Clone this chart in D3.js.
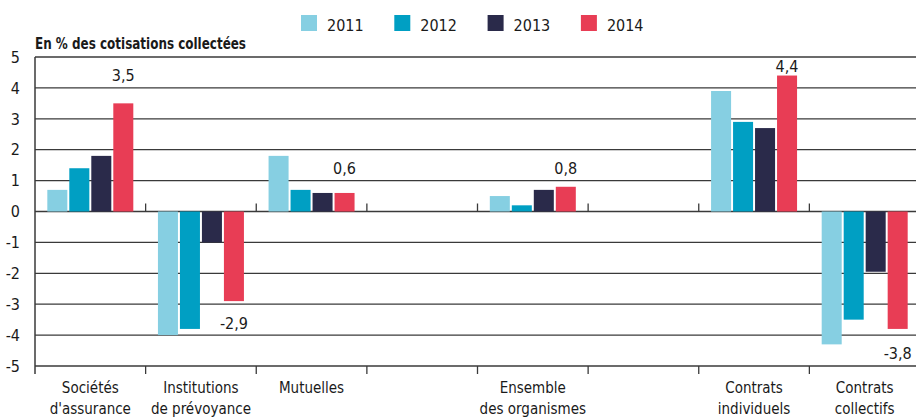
<!DOCTYPE html>
<html>
<head>
<meta charset="utf-8">
<script src="https://cdn.jsdelivr.net/npm/d3@7"></script>
<style>
  body { margin: 0; background: #fff; }
  svg text { font-family: "Liberation Sans Narrow", "DejaVu Sans Condensed", sans-serif; fill: #1a1a1a; }
</style>
</head>
<body>
<div id="chart"></div>
<script>
// categories (empty entries are spacer slots in the original layout)
const categories = [
  ['Sociétés', "d'assurance"],
  ['Institutions', 'de prévoyance'],
  ['Mutuelles'],
  [],
  ['Ensemble', 'des organismes'],
  [],
  ['Contrats', 'individuels'],
  ['Contrats', 'collectifs']
];
const years = ['2011', '2012', '2013', '2014'];
const colors = ['#86cfe2', '#009fc3', '#2a2a4a', '#e83d55'];

const values2011 = [0.7, -4.0, 1.8, null, 0.5, null, 3.9, -4.3];
const values2012 = [1.4, -3.8, 0.7, null, 0.2, null, 2.9, -3.5];
const values2013 = [1.8, -1.0, 0.6, null, 0.7, null, 2.7, -1.95];
const values2014 = [3.5, -2.9, 0.6, null, 0.8, null, 4.4, -3.8];
const series = [values2011, values2012, values2013, values2014];

const yTicks = [5, 4, 3, 2, 1, 0, -1, -2, -3, -4, -5];
const yTitle = 'En % des cotisations collectées';

const width = 916, height = 419;
const margin = {left: 35, right: -4, top: 57, bottom: 53};

const svg = d3.select('#chart').append('svg')
  .attr('width', width)
  .attr('height', height);

const x0 = d3.scaleBand()
  .domain(d3.range(categories.length))
  .range([margin.left, width - margin.right]);

const x1 = d3.scaleBand()
  .domain(years)
  .range([0, x0.bandwidth()])
  .paddingInner(0.09)
  .paddingOuter(0.56);

const y = d3.scaleLinear()
  .domain([-5, 5])
  .range([height - margin.bottom, margin.top]);

const gridColor = '#3a3a3a';

// horizontal grid lines
svg.append('g')
  .selectAll('line')
  .data(yTicks)
  .join('line')
  .attr('x1', margin.left)
  .attr('x2', width)
  .attr('y1', d => y(d))
  .attr('y2', d => y(d))
  .attr('stroke', gridColor)
  .attr('stroke-width', 1.3);

// y tick labels
svg.append('g')
  .selectAll('text')
  .data(yTicks)
  .join('text')
  .attr('x', 20)
  .attr('y', d => y(d))
  .attr('dy', '0.36em')
  .attr('text-anchor', 'end')
  .style('font-size', '16px')
  .text(d => d);

// y title
svg.append('text')
  .attr('x', margin.left)
  .attr('y', 49)
  .attr('textLength', 211)
  .attr('lengthAdjust', 'spacingAndGlyphs')
  .style('font-size', '16px')
  .style('font-weight', 'bold')
  .text(yTitle);

// bars
const groups = svg.append('g')
  .selectAll('g')
  .data(categories.map((c, i) => i))
  .join('g')
  .attr('transform', i => `translate(${x0(i)},0)`);

groups.selectAll('rect')
  .data(i => years.map((yr, k) => ({year: yr, k, v: series[k][i]})).filter(d => d.v !== null))
  .join('rect')
  .attr('x', d => x1(d.year))
  .attr('width', x1.bandwidth())
  .attr('y', d => y(Math.max(0, d.v)))
  .attr('height', d => Math.abs(y(d.v) - y(0)))
  .attr('fill', d => colors[d.k]);

// value labels on 2014 bars
const fmt = v => d3.format('.1f')(v).replace('.', ',').replace('−', '-');
groups.selectAll('text.val')
  .data(i => values2014[i] === null ? [] : [values2014[i]])
  .join('text')
  .attr('class', 'val')
  .attr('x', x1('2014') + x1.bandwidth() / 2)
  .attr('y', v => y(v >= 0 ? Math.min(Math.ceil(v) + 0.4, 4.7) : Math.max(Math.floor(v) - 0.6, -4.7)))
  .attr('dy', '0.36em')
  .attr('text-anchor', 'middle')
  .style('font-size', '16px')
  .text(fmt);

// axis lines and ticks
const bounds = d3.range(categories.length).map(i => x0(i));
svg.append('line')
  .attr('x1', margin.left).attr('x2', margin.left)
  .attr('y1', y(5)).attr('y2', y(-5) + 8)
  .attr('stroke', gridColor).attr('stroke-width', 1.5);

svg.append('g')
  .selectAll('line')
  .data(bounds.slice(1))
  .join('line')
  .attr('x1', d => d).attr('x2', d => d)
  .attr('y1', y(0) - 8).attr('y2', y(0))
  .attr('stroke', gridColor).attr('stroke-width', 1.3);

svg.append('g')
  .selectAll('line')
  .data(bounds.slice(1))
  .join('line')
  .attr('x1', d => d).attr('x2', d => d)
  .attr('y1', y(-5)).attr('y2', y(-5) + 8)
  .attr('stroke', gridColor).attr('stroke-width', 1.3);

// category labels
groups.selectAll('text.cat')
  .data(i => categories[i].map((line, j) => ({line, j})))
  .join('text')
  .attr('class', 'cat')
  .attr('x', x0.bandwidth() / 2)
  .attr('y', d => 393 + d.j * 21)
  .attr('text-anchor', 'middle')
  .style('font-size', '15px')
  .text(d => d.line);

// legend
const legend = svg.append('g')
  .selectAll('g')
  .data(years)
  .join('g')
  .attr('transform', (d, k) => `translate(${301 + k * 93.3},15)`);

legend.append('rect')
  .attr('width', 16)
  .attr('height', 16)
  .attr('fill', (d, k) => colors[k]);

legend.append('text')
  .attr('x', 26)
  .attr('y', 16)
  .style('font-size', '16px')
  .text(d => d);
</script>
</body>
</html>
